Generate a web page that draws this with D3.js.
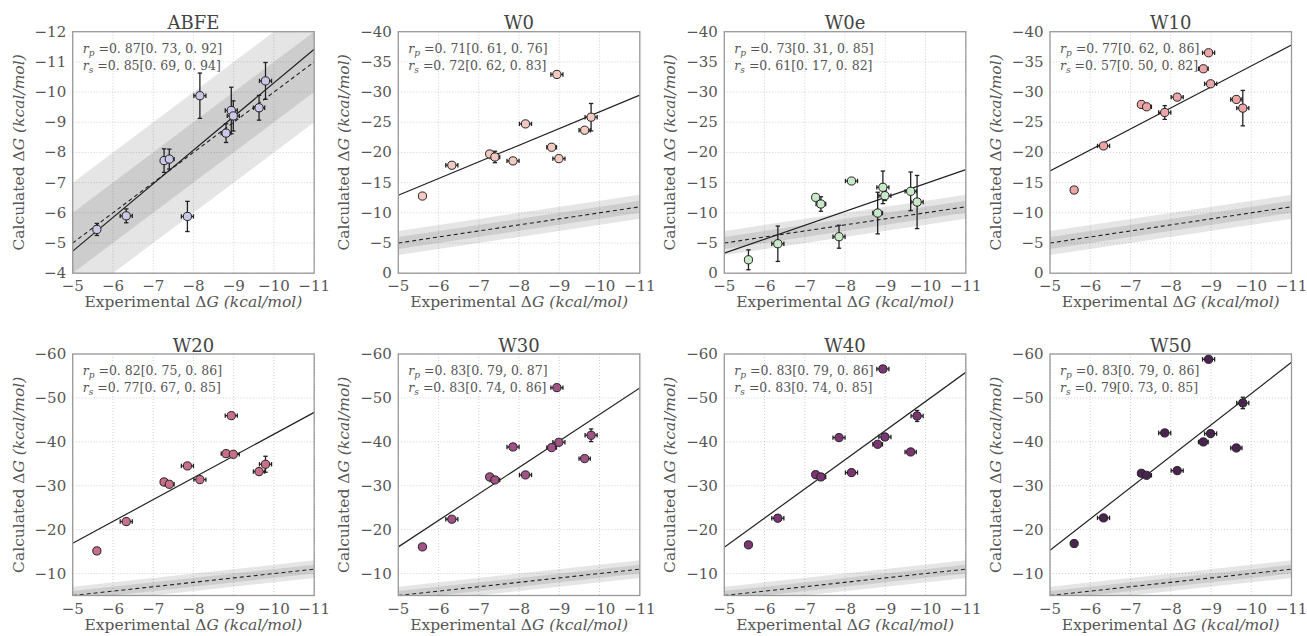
<!DOCTYPE html>
<html><head><meta charset="utf-8">
<script src="https://cdn.jsdelivr.net/npm/d3@7"></script>
<style>
body{margin:0;background:#fff}
svg{display:block}
text{font-family:"DejaVu Serif",serif}
</style>
</head><body>
<svg id="chart" width="1307" height="636"></svg>
<script>
// Experimental binding free energies (kcal/mol) and their uncertainties
const expDG  = [-5.60, -6.33, -7.27, -7.40, -7.85, -8.16, -8.81, -8.94, -8.99, -9.63, -9.79];
const expErr = [0, 0.15, 0, 0.12, 0.15, 0.15, 0.12, 0.15, 0.15, 0.14, 0.15];

const panelNames = ["ABFE", "W0", "W0e", "W10", "W20", "W30", "W40", "W50"];

// Calculated values per method
const calcABFE = [-5.45, -5.90, -7.73, -7.78, -5.88, -9.88, -8.64, -9.39, -9.21, -9.48, -10.37];
const errABFE  = [0.20, 0.23, 0.39, 0.33, 0.50, 0.75, 0.31, 0.77, 0.50, 0.41, 0.61];
const calcW0   = [-12.78, -17.88, -19.75, -19.25, -18.60, -24.73, -20.86, -32.92, -18.98, -23.68, -25.84];
const errW0    = [0.3, 0.3, 0.3, 0.95, 0.4, 0.4, 0.3, 0.3, 0.3, 0.3, 2.27];
const calcW0e  = [-2.22, -4.88, -12.56, -11.46, -6.04, -15.27, -9.96, -14.22, -12.84, -13.56, -11.79];
const errW0e   = [1.65, 2.93, 0.3, 1.2, 1.9, 0.4, 3.45, 2.7, 0.8, 3.2, 4.4];
const calcW10  = [-13.78, -21.08, -27.95, -27.56, -26.62, -29.16, -33.86, -36.51, -31.37, -28.78, -27.34];
const errW10   = [0.3, 0.3, 0.3, 0.3, 1.14, 0.4, 0.3, 0.3, 0.3, 0.3, 2.93];
const calcW20  = [-15.16, -21.84, -30.86, -30.33, -34.51, -31.40, -37.31, -45.96, -37.16, -33.22, -34.89];
const errW20   = [0.3, 0.3, 0.3, 0.3, 0.5, 0.4, 0.3, 0.3, 0.3, 0.3, 1.82];
const calcW30  = [-16.07, -22.37, -32.00, -31.32, -38.83, -32.46, -38.68, -52.34, -39.89, -36.18, -41.49];
const errW30   = [0.3, 0.3, 0.3, 0.3, 0.5, 0.4, 0.3, 0.3, 0.3, 0.3, 1.44];
const calcW40  = [-16.53, -22.60, -32.53, -32.00, -40.96, -32.99, -39.44, -56.59, -41.11, -37.69, -45.89];
const errW40   = [0.3, 0.3, 0.3, 0.3, 0.5, 0.4, 0.3, 0.3, 0.3, 0.3, 1.25];
const calcW50  = [-16.83, -22.67, -32.84, -32.38, -42.02, -33.44, -39.97, -58.79, -41.87, -38.60, -48.85];
const errW50   = [0.3, 0.3, 0.3, 0.3, 0.5, 0.4, 0.3, 0.3, 0.3, 0.3, 1.30];

// Linear fit evaluated at experimental -5 and -11 kcal/mol
const fitAtMinus5  = [-4.73, -12.90, -3.32, -16.93, -16.90, -16.07, -16.00, -15.31];
const fitAtMinus11 = [-11.42, -29.50, -17.16, -37.80, -46.70, -52.26, -55.83, -58.10];

// Correlation coefficients with confidence intervals
const pearsonText  = ["0. 87[0. 73, 0. 92]", "0. 71[0. 61, 0. 76]", "0. 73[0. 31, 0. 85]", "0. 77[0. 62, 0. 86]",
                      "0. 82[0. 75, 0. 86]", "0. 83[0. 79, 0. 87]", "0. 83[0. 79, 0. 86]", "0. 83[0. 79, 0. 86]"];
const spearmanText = ["0. 85[0. 69, 0. 94]", "0. 72[0. 62, 0. 83]", "0. 61[0. 17, 0. 82]", "0. 57[0. 50, 0. 82]",
                      "0. 77[0. 67, 0. 85]", "0. 83[0. 74, 0. 86]", "0. 83[0. 74, 0. 85]", "0. 79[0. 73, 0. 85]"];

// Axis ranges and ticks
const xDomain = [-5, -11];
const xTicks = [-5, -6, -7, -8, -9, -10, -11];
const yDomainABFE = [-4, -12];
const yTicksABFE = [-4, -5, -6, -7, -8, -9, -10, -11, -12];
const yDomainTop = [0, -40];
const yTicksTop = [0, -5, -10, -15, -20, -25, -30, -35, -40];
const yDomainBottom = [-5, -60];
const yTicksBottom = [-10, -20, -30, -40, -50, -60];

const markerColors = ["#c9c8e6", "#f3cac1", "#c9eac8", "#eca5a7", "#c96f8a", "#a05384", "#7a3572", "#4b2350"];

const calcSets = [calcABFE, calcW0, calcW0e, calcW10, calcW20, calcW30, calcW40, calcW50];
const errSets  = [errABFE, errW0, errW0e, errW10, errW20, errW30, errW40, errW50];

const svg = d3.select("#chart");
const plotLefts = [72.7, 398.3, 724.3, 1050];
const plotTops = [31.7, 354];
const W = 241.5, H = 241.5;
const fmt = d3.format("d");

panelNames.forEach((name, i) => {
  const col = i % 4, row = Math.floor(i / 4);
  const left = plotLefts[col], top = plotTops[row];
  const yDom = i === 0 ? yDomainABFE : (row === 0 ? yDomainTop : yDomainBottom);
  const yTk = i === 0 ? yTicksABFE : (row === 0 ? yTicksTop : yTicksBottom);

  const x = d3.scaleLinear().domain(xDomain).range([0, W]);
  const y = d3.scaleLinear().domain(yDom).range([H, 0]);

  const g = svg.append("g").attr("transform", `translate(${left},${top})`);
  const clipId = "clip" + i;
  g.append("clipPath").attr("id", clipId).append("rect").attr("width", W).attr("height", H);

  // dotted grid
  const grid = g.append("g").attr("stroke", "#c4c4c4").attr("stroke-width", 0.8).attr("stroke-dasharray", "1,2");
  grid.selectAll("line.gx").data(xTicks).join("line")
    .attr("x1", d => x(d)).attr("x2", d => x(d)).attr("y1", 0).attr("y2", H);
  grid.selectAll("line.gy").data(yTk).join("line")
    .attr("y1", d => y(d)).attr("y2", d => y(d)).attr("x1", 0).attr("x2", W);

  const clipped = g.append("g").attr("clip-path", `url(#${clipId})`);

  // ±2 and ±1 kcal/mol bands around the identity line
  [2, 1].forEach(b => {
    const poly = [[-5, -5 + b], [-11, -11 + b], [-11, -11 - b], [-5, -5 - b]];
    clipped.append("path")
      .attr("d", d3.line().x(d => x(d[0])).y(d => y(d[1]))(poly) + "Z")
      .attr("fill", "#000").attr("fill-opacity", 0.1);
  });

  // identity line
  clipped.append("line")
    .attr("x1", x(-5)).attr("y1", y(-5)).attr("x2", x(-11)).attr("y2", y(-11))
    .attr("stroke", "#222").attr("stroke-width", 1.1).attr("stroke-dasharray", "4,3");

  // fit line
  clipped.append("line")
    .attr("x1", x(-5)).attr("y1", y(fitAtMinus5[i])).attr("x2", x(-11)).attr("y2", y(fitAtMinus11[i]))
    .attr("stroke", "#222").attr("stroke-width", 1.2);

  // frame
  g.append("rect").attr("width", W).attr("height", H).attr("fill", "none")
    .attr("stroke", "#999").attr("stroke-width", 1.3);

  // data with error bars
  const pts = expDG.map((e, k) => ({ex: e, exErr: expErr[k], c: calcSets[i][k], cErr: errSets[i][k]}));
  const eb = g.append("g").attr("stroke", "#222").attr("stroke-width", 1.3);
  const cap = 2.2;
  pts.forEach(p => {
    const cx = x(p.ex), cy = y(p.c);
    if (p.cErr > 0) {
      const y1 = y(p.c - p.cErr), y2 = y(p.c + p.cErr);
      eb.append("line").attr("x1", cx).attr("x2", cx).attr("y1", y1).attr("y2", y2);
      eb.append("line").attr("x1", cx - cap).attr("x2", cx + cap).attr("y1", y1).attr("y2", y1);
      eb.append("line").attr("x1", cx - cap).attr("x2", cx + cap).attr("y1", y2).attr("y2", y2);
    }
    if (p.exErr > 0) {
      const x1 = x(p.ex - p.exErr), x2 = x(p.ex + p.exErr);
      eb.append("line").attr("y1", cy).attr("y2", cy).attr("x1", x1).attr("x2", x2);
      eb.append("line").attr("y1", cy - cap).attr("y2", cy + cap).attr("x1", x1).attr("x2", x1);
      eb.append("line").attr("y1", cy - cap).attr("y2", cy + cap).attr("x1", x2).attr("x2", x2);
    }
  });
  g.append("g").selectAll("circle").data(pts).join("circle")
    .attr("cx", d => x(d.ex)).attr("cy", d => y(d.c)).attr("r", 4.1)
    .attr("fill", markerColors[i]).attr("stroke", "#222").attr("stroke-width", 1);

  // tick labels
  g.append("g").selectAll("text").data(xTicks).join("text")
    .attr("x", d => x(d)).attr("y", H + 18).attr("text-anchor", "middle")
    .attr("font-size", 15).attr("fill", "#555").text(d => fmt(d));
  g.append("g").selectAll("text").data(yTk).join("text")
    .attr("x", -6.5).attr("y", d => y(d) + 5).attr("text-anchor", "end")
    .attr("font-size", 15).attr("fill", "#555").text(d => fmt(d));

  // title
  g.append("text").attr("x", W / 2).attr("y", -2.5).attr("text-anchor", "middle")
    .attr("font-size", 18).attr("fill", "#444").text(name);

  // axis labels
  const xl = g.append("text").attr("x", W / 2).attr("y", H + 34).attr("text-anchor", "middle")
    .attr("font-size", 15.5).attr("fill", "#555");
  xl.append("tspan").text("Experimental Δ");
  xl.append("tspan").attr("font-style", "italic").text("G");
  xl.append("tspan").attr("font-style", "italic").text(" (kcal/mol)");

  const yl = g.append("text").attr("transform", `translate(-49,${H / 2}) rotate(-90)`)
    .attr("text-anchor", "middle").attr("font-size", 15.5).attr("fill", "#555");
  yl.append("tspan").text("Calculated Δ");
  yl.append("tspan").attr("font-style", "italic").text("G");
  yl.append("tspan").attr("font-style", "italic").text(" (kcal/mol)");

  // correlation annotations
  [["p", pearsonText[i], 21], ["s", spearmanText[i], 38]].forEach(([sub, txt, dy]) => {
    const t = g.append("text").attr("x", 10).attr("y", dy).attr("font-size", 12.5).attr("fill", "#555");
    t.append("tspan").attr("font-style", "italic").text("r");
    t.append("tspan").attr("font-style", "italic").attr("font-size", 9).attr("dy", 3).text(sub);
    t.append("tspan").attr("dy", -3).text(" =" + txt);
  });
});
</script>
</body></html>
